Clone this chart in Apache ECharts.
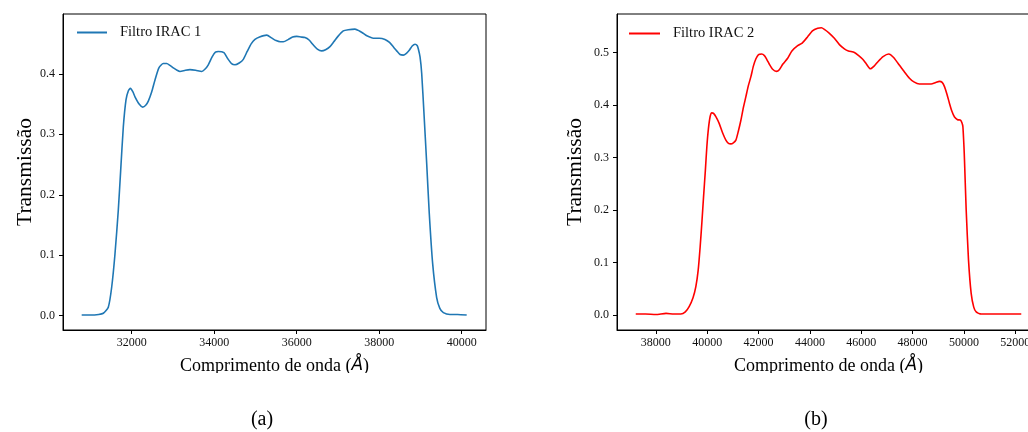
<!DOCTYPE html>
<html>
<head>
<meta charset="utf-8">
<script src="https://cdn.jsdelivr.net/npm/echarts@6/dist/echarts.min.js"></script>
<style>
  html, body { margin: 0; padding: 0; background: #fff; overflow: hidden; }
  #wrap { width: 1028px; height: 432px; overflow: hidden; }
  /* the canvas runs past the page edge so the right panel keeps its full width */
  #chart { width: 1060px; height: 432px; }
</style>
</head>
<body>
<div id="wrap"><div id="chart"></div></div>
<script>
// IRAC channel 1 transmission curve (wavelength in Å)
const irac1Wave = [30788, 31000, 31200, 31312, 31433, 31515, 31595, 31675, 31733, 31797, 31862, 31920, 31970, 32030, 32080, 32180, 32267, 32340, 32403, 32484, 32565, 32660, 32766, 32850, 32928, 33010, 33100, 33171, 33300, 33413, 33550, 33697, 33780, 33857, 33950, 34030, 34099, 34237, 34330, 34420, 34504, 34606, 34706, 34800, 34900, 34989, 35100, 35273, 35400, 35500, 35600, 35675, 35800, 35900, 36000, 36100, 36201, 36300, 36400, 36500, 36606, 36700, 36807, 36900, 37000, 37129, 37250, 37413, 37520, 37614, 37700, 37857, 38000, 38140, 38250, 38350, 38424, 38505, 38584, 38660, 38729, 38800, 38868, 38920, 38949, 38990, 39030, 39086, 39151, 39214, 39296, 39393, 39470, 39555, 39716, 39900, 40121];
const irac1Trans = [0.001, 0.001, 0.002, 0.004, 0.014, 0.047, 0.102, 0.174, 0.240, 0.312, 0.357, 0.372, 0.376, 0.370, 0.362, 0.350, 0.345, 0.348, 0.355, 0.370, 0.390, 0.410, 0.417, 0.417, 0.414, 0.410, 0.406, 0.404, 0.406, 0.407, 0.406, 0.404, 0.408, 0.415, 0.428, 0.436, 0.437, 0.435, 0.425, 0.417, 0.415, 0.418, 0.424, 0.437, 0.450, 0.457, 0.461, 0.464, 0.459, 0.455, 0.453, 0.453, 0.457, 0.461, 0.462, 0.461, 0.460, 0.456, 0.448, 0.441, 0.438, 0.440, 0.445, 0.453, 0.462, 0.471, 0.473, 0.474, 0.471, 0.467, 0.463, 0.459, 0.459, 0.457, 0.452, 0.444, 0.438, 0.432, 0.431, 0.434, 0.439, 0.446, 0.449, 0.447, 0.441, 0.428, 0.401, 0.334, 0.252, 0.169, 0.086, 0.030, 0.012, 0.005, 0.002, 0.002, 0.001];

// IRAC channel 2 transmission curve (wavelength in Å)
const irac2Wave = [37220, 37600, 38000, 38400, 38700, 38975, 39150, 39299, 39450, 39560, 39650, 39728, 39800, 39860, 39930, 39989, 40050, 40117, 40180, 40249, 40350, 40468, 40600, 40729, 40830, 40924, 41020, 41119, 41214, 41314, 41410, 41509, 41600, 41704, 41800, 41899, 42000, 42121, 42230, 42330, 42418, 42550, 42700, 42808, 42950, 43135, 43300, 43525, 43700, 43914, 44100, 44304, 44450, 44564, 44750, 44954, 45150, 45344, 45500, 45734, 45900, 46058, 46200, 46355, 46500, 46643, 46850, 47072, 47250, 47423, 47650, 47876, 48050, 48266, 48500, 48722, 48900, 49046, 49150, 49241, 49340, 49436, 49530, 49631, 49750, 49864, 49920, 49957, 50000, 50020, 50086, 50176, 50280, 50380, 50475, 50670, 51060, 51600, 52231];
const irac2Trans = [0.002, 0.002, 0.001, 0.003, 0.002, 0.002, 0.006, 0.016, 0.033, 0.054, 0.085, 0.130, 0.180, 0.225, 0.275, 0.321, 0.355, 0.378, 0.385, 0.384, 0.377, 0.365, 0.347, 0.333, 0.327, 0.326, 0.328, 0.333, 0.350, 0.371, 0.395, 0.416, 0.436, 0.454, 0.474, 0.488, 0.496, 0.497, 0.494, 0.486, 0.478, 0.468, 0.464, 0.467, 0.478, 0.489, 0.503, 0.513, 0.518, 0.530, 0.541, 0.546, 0.547, 0.544, 0.537, 0.527, 0.515, 0.507, 0.503, 0.500, 0.494, 0.487, 0.478, 0.469, 0.474, 0.482, 0.492, 0.497, 0.491, 0.480, 0.465, 0.451, 0.444, 0.440, 0.440, 0.440, 0.443, 0.445, 0.443, 0.435, 0.420, 0.403, 0.388, 0.377, 0.372, 0.371, 0.366, 0.359, 0.320, 0.295, 0.200, 0.105, 0.041, 0.015, 0.006, 0.002, 0.002, 0.002, 0.002];

// Tick values
const xTicks1 = [32000, 34000, 36000, 38000, 40000];
const yTicks1 = [0.0, 0.1, 0.2, 0.3, 0.4];
const xTicks2 = [38000, 40000, 42000, 44000, 46000, 48000, 50000, 52000];
const yTicks2 = [0.0, 0.1, 0.2, 0.3, 0.4, 0.5];

const seriesNames = ['Filtro IRAC 1', 'Filtro IRAC 2'];
const yTitle = 'Transmissão';
const xTitle = 'Comprimento de onda ({i|Å})';
const panelLabels = ['(a)', '(b)'];

const SERIF = '"Liberation Serif", "Times New Roman", serif';

function pairs(xs, ys) { return xs.map((x, i) => [x, ys[i]]); }

function xAxisFor(gridIndex, min, max, ticks) {
  return {
    type: 'value', gridIndex, min, max,
    axisLine: { show: true, onZero: false, lineStyle: { color: '#000', width: 1 } },
    axisTick: { show: true, length: 4, customValues: ticks, lineStyle: { color: '#000' } },
    axisLabel: {
      customValues: ticks, margin: 7, color: '#111',
      fontFamily: SERIF, fontSize: 12,
      formatter: v => String(Math.round(v))
    },
    splitLine: { show: false },
    name: xTitle, nameLocation: 'middle', nameGap: 27,
    nameTextStyle: {
      fontFamily: SERIF, fontSize: 18, color: '#000',
      rich: { i: { fontFamily: '"DejaVu Sans", sans-serif', fontStyle: 'italic', fontSize: 17, color: '#000' } }
    }
  };
}

function yAxisFor(gridIndex, min, max, ticks, gap) {
  return {
    type: 'value', gridIndex, min, max,
    axisLine: { show: true, onZero: false, lineStyle: { color: '#000', width: 1 } },
    axisTick: { show: true, length: 4, customValues: ticks, lineStyle: { color: '#000' } },
    axisLabel: {
      customValues: ticks, margin: 8, color: '#111',
      fontFamily: SERIF, fontSize: 12,
      formatter: v => v.toFixed(1)
    },
    splitLine: { show: false },
    name: yTitle, nameLocation: 'middle', nameGap: gap,
    nameTextStyle: { fontFamily: SERIF, fontSize: 21.5, color: '#000' }
  };
}

const chart = echarts.init(document.getElementById('chart'), null, { renderer: 'canvas' });

chart.setOption({
  backgroundColor: '#fff',
  animation: false,
  grid: [
    { left: 63, top: 14, width: 423, height: 316, show: true, borderColor: '#000', borderWidth: 1 },
    { left: 617, top: 14, width: 423, height: 316, show: true, borderColor: '#000', borderWidth: 1 }
  ],
  legend: [
    {
      data: [seriesNames[0]], left: 77, top: 25, padding: 0,
      icon: 'rect', itemWidth: 30, itemHeight: 2,
      textStyle: { fontFamily: SERIF, fontSize: 14.5, color: '#111', padding: [0, 0, 0, 8] }
    },
    {
      data: [seriesNames[1]], left: 629, top: 26, padding: 0,
      icon: 'rect', itemWidth: 31, itemHeight: 2,
      textStyle: { fontFamily: SERIF, fontSize: 14.5, color: '#111', padding: [0, 0, 0, 8] }
    }
  ],
  xAxis: [
    xAxisFor(0, 30335, 40589, xTicks1),
    xAxisFor(1, 36490, 52960, xTicks2)
  ],
  yAxis: [
    yAxisFor(0, -0.0237, 0.499, yTicks1, 27),
    yAxisFor(1, -0.0286, 0.5733, yTicks2, 31)
  ],
  series: [
    {
      name: seriesNames[0], type: 'line', xAxisIndex: 0, yAxisIndex: 0,
      data: pairs(irac1Wave, irac1Trans), symbol: 'none', smooth: 0.2,
      lineStyle: { color: '#1f77b4', width: 1.6 }, itemStyle: { color: '#1f77b4' }
    },
    {
      name: seriesNames[1], type: 'line', xAxisIndex: 1, yAxisIndex: 1,
      data: pairs(irac2Wave, irac2Trans), symbol: 'none', smooth: 0.2,
      lineStyle: { color: '#ff0000', width: 1.6 }, itemStyle: { color: '#ff0000' }
    }
  ],
  graphic: [
    // the figure is cut just below the axis titles
    { type: 'rect', left: 0, top: 373, z: 100, shape: { width: 1060, height: 59 }, style: { fill: '#fff' } },
    { type: 'text', z: 101, x: 262, y: 420, style: { text: panelLabels[0], font: '20px ' + SERIF, fill: '#000', align: 'center', verticalAlign: 'middle' } },
    { type: 'text', z: 101, x: 816, y: 420, style: { text: panelLabels[1], font: '20px ' + SERIF, fill: '#000', align: 'center', verticalAlign: 'middle' } }
  ]
});
</script>
</body>
</html>
